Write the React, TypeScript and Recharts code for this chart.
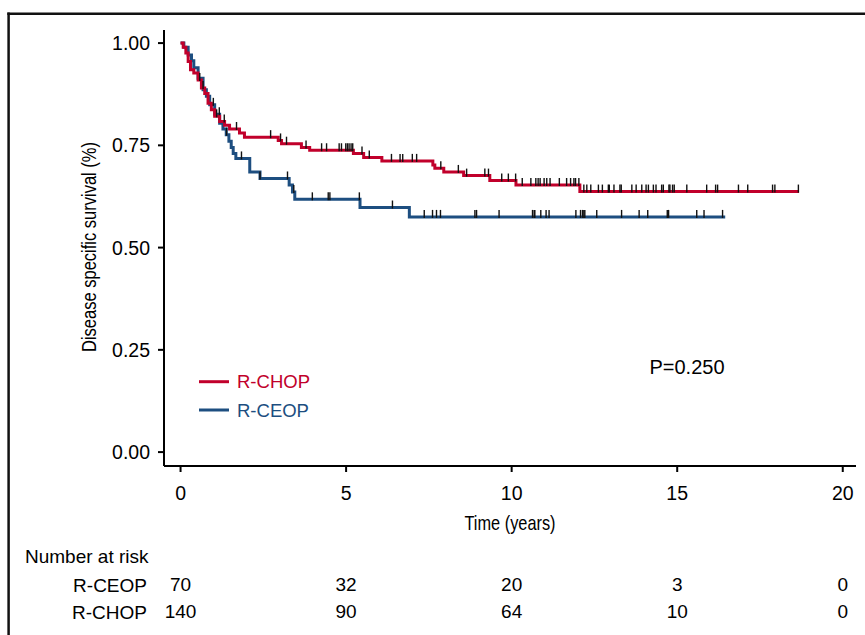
import React from 'react';
import { ComposedChart, Line, Scatter, XAxis, YAxis } from 'recharts';

// Kaplan-Meier steps (time in years, survival fraction)
const chopTimes = [0, 0.08, 0.16, 0.23, 0.3, 0.4, 0.53, 0.63, 0.73, 0.83, 0.93, 1.03, 1.18, 1.33, 1.48, 1.78, 1.93, 2.95, 3.05, 3.65, 3.9, 5.22, 5.53, 6.08, 7.62, 7.68, 7.95, 8.55, 9.34, 10.13, 12.06, 18.68];
const chopSurv = [1.0, 0.99, 0.976, 0.955, 0.935, 0.927, 0.91, 0.89, 0.877, 0.853, 0.837, 0.821, 0.808, 0.799, 0.79, 0.78, 0.77, 0.762, 0.754, 0.745, 0.738, 0.73, 0.72, 0.712, 0.702, 0.694, 0.685, 0.676, 0.664, 0.653, 0.637, 0.637];

const ceopTimes = [0, 0.1, 0.23, 0.33, 0.4, 0.53, 0.68, 0.78, 0.88, 1.03, 1.18, 1.28, 1.38, 1.46, 1.53, 1.59, 1.67, 2.09, 2.4, 3.28, 3.38, 3.45, 5.42, 6.91, 16.45];
const ceopSurv = [1.0, 0.99, 0.971, 0.957, 0.94, 0.914, 0.886, 0.87, 0.849, 0.826, 0.804, 0.79, 0.776, 0.76, 0.745, 0.73, 0.718, 0.685, 0.669, 0.653, 0.636, 0.618, 0.598, 0.575, 0.575];

// censoring times
const chopCensor = [0.58, 0.68, 1.09, 1.32, 1.69, 2.72, 3.02, 3.2, 3.79, 4.26, 4.41, 4.79, 4.86, 4.99, 5.04, 5.09, 5.15, 5.2, 5.48, 5.7, 6.37, 6.63, 6.71, 7.0, 7.13, 7.86, 8.39, 8.64, 9.19, 9.3, 9.7, 9.9, 10.12, 10.32, 10.58, 10.73, 10.8, 10.86, 10.98, 11.06, 11.16, 11.44, 11.66, 11.78, 11.88, 11.93, 12.03, 12.18, 12.27, 12.39, 12.62, 12.74, 12.92, 12.95, 13.09, 13.27, 13.31, 13.63, 13.76, 13.93, 14.06, 14.13, 14.28, 14.36, 14.53, 14.58, 14.75, 14.78, 14.86, 14.91, 15.29, 15.89, 16.16, 16.22, 16.85, 17.13, 17.88, 17.95, 18.66];
const ceopCensor = [0.99, 1.17, 1.39, 1.84, 2.4, 3.23, 3.42, 3.98, 4.46, 4.51, 5.4, 6.4, 7.36, 7.61, 7.73, 7.85, 8.89, 8.94, 9.62, 10.63, 10.68, 10.7, 10.88, 11.04, 11.13, 11.94, 12.08, 12.14, 12.18, 12.21, 12.57, 13.32, 13.85, 14.11, 14.7, 14.74, 15.59, 15.81, 16.37];

const xTicks = [0, 5, 10, 15, 20];
const yTicks = [0, 0.25, 0.5, 0.75, 1];
const riskCeop = [70, 32, 20, 3, 0];
const riskChop = [140, 90, 64, 10, 0];
const pValue = 'P=0.250';

const RED = '#C1002B';
const BLUE = '#1D4E80';
const FONT = '"Liberation Sans", Arial, Helvetica, sans-serif';

const toSteps = (times: number[], surv: number[]) => times.map((t, i) => ({ t, s: surv[i] }));

const survAt = (times: number[], surv: number[], t: number) => {
  let s = surv[0];
  for (let i = 0; i < times.length; i++) if (times[i] <= t) s = surv[i];
  return s;
};

const censorPts = (censor: number[], times: number[], surv: number[]) =>
  censor.map(t => ({ t, s: survAt(times, surv, t) }));

const chopData = toSteps(chopTimes, chopSurv);
const ceopData = toSteps(ceopTimes, ceopSurv);
const chopMarks = censorPts(chopCensor, chopTimes, chopSurv);
const ceopMarks = censorPts(ceopCensor, ceopTimes, ceopSurv);

const CensorMark = (props: any) => {
  const { cx, cy } = props;
  if (cx == null || cy == null) return null;
  return <line x1={cx} x2={cx} y1={cy - 7} y2={cy + 1} stroke="#111" strokeWidth={1.4} />;
};

// tick label plus the number-at-risk values under each time point
const TimeTick = (props: any) => {
  const { x, y, payload } = props;
  const i = xTicks.indexOf(payload.value);
  const base = y + 13.6;
  return (
    <g fontFamily={FONT} fill="#000">
      <text x={x} y={base} textAnchor="middle" fontSize={19.5}>{payload.value}</text>
      <text x={x} y={base + 91.5} textAnchor="middle" fontSize={19}>{riskCeop[i]}</text>
      <text x={x} y={base + 118.5} textAnchor="middle" fontSize={19}>{riskChop[i]}</text>
    </g>
  );
};

export default function App() {
  return (
    <div style={{ position: 'absolute', left: 0, top: 0, width: 865, height: 635, background: '#fff' }}>
      <ComposedChart width={865} height={635} margin={{ top: 30, right: 9, bottom: 139, left: 84 }}>
        <XAxis
          type="number"
          dataKey="t"
          domain={[-0.5, 20.4]}
          ticks={xTicks}
          allowDataOverflow
          height={30}
          tickSize={6}
          tickMargin={14}
          axisLine={{ stroke: '#000', strokeWidth: 2 }}
          tickLine={{ stroke: '#000', strokeWidth: 2 }}
          tick={<TimeTick />}
        />
        <YAxis
          type="number"
          dataKey="s"
          domain={[-0.034, 1.032]}
          ticks={yTicks}
          allowDataOverflow
          width={80}
          tickSize={6}
          tickMargin={8}
          axisLine={{ stroke: '#000', strokeWidth: 2 }}
          tickLine={{ stroke: '#000', strokeWidth: 2 }}
          tick={{ fill: '#000', fontSize: 19.5, fontFamily: FONT }}
          tickFormatter={(v: number) => v.toFixed(2)}
        />
        <Line data={ceopData} dataKey="s" type="stepAfter" stroke={BLUE} strokeWidth={3} dot={false} activeDot={false} isAnimationActive={false} />
        <Line data={chopData} dataKey="s" type="stepAfter" stroke={RED} strokeWidth={3} dot={false} activeDot={false} isAnimationActive={false} />
        <Scatter data={ceopMarks} dataKey="s" shape={<CensorMark />} isAnimationActive={false} />
        <Scatter data={chopMarks} dataKey="s" shape={<CensorMark />} isAnimationActive={false} />
      </ComposedChart>
      <svg width={865} height={635} style={{ position: 'absolute', left: 0, top: 0, pointerEvents: 'none' }}>
        <line x1={7.3} x2={865} y1={13.8} y2={13.8} stroke="#111" strokeWidth={2.5} />
        <line x1={8.6} x2={8.6} y1={12.6} y2={635} stroke="#111" strokeWidth={2.5} />
        <text transform="translate(88,247) rotate(-90)" textAnchor="middle" dominantBaseline="central" fontFamily={FONT} fontSize={21} fill="#000" textLength={210} lengthAdjust="spacingAndGlyphs">
          Disease specific survival (%)
        </text>
        <text x={510} y={522} textAnchor="middle" dominantBaseline="central" fontFamily={FONT} fontSize={21} fill="#000" textLength={91} lengthAdjust="spacingAndGlyphs">
          Time (years)
        </text>
        <line x1={199} x2={229} y1={381.7} y2={381.7} stroke={RED} strokeWidth={3} />
        <text x={237} y={381.7} dominantBaseline="central" fontFamily={FONT} fontSize={18.5} fill={RED}>R-CHOP</text>
        <line x1={199} x2={229} y1={410} y2={410} stroke={BLUE} strokeWidth={3} />
        <text x={237} y={410} dominantBaseline="central" fontFamily={FONT} fontSize={18.5} fill={BLUE}>R-CEOP</text>
        <text x={687} y={367} textAnchor="middle" dominantBaseline="central" fontFamily={FONT} fontSize={20} fill="#000">{pValue}</text>
        <text x={25} y={562.6} fontFamily={FONT} fontSize={19} fill="#000">Number at risk</text>
        <text x={147} y={591.6} textAnchor="end" fontFamily={FONT} fontSize={19} fill="#000">R-CEOP</text>
        <text x={147} y={618.6} textAnchor="end" fontFamily={FONT} fontSize={19} fill="#000">R-CHOP</text>
      </svg>
    </div>
  );
}
